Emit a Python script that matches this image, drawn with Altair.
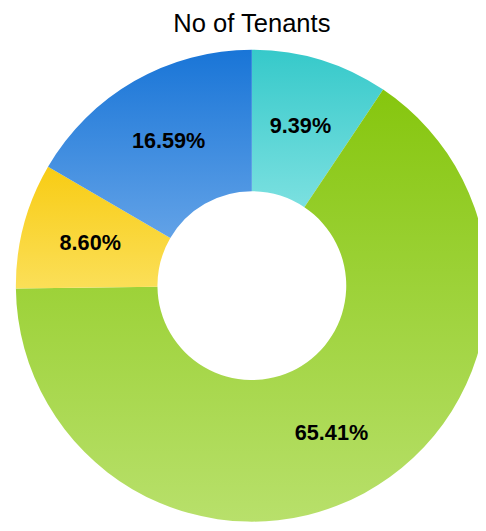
import altair as alt
import pandas as pd

title_text = "No of Tenants"
categories = ["Type A", "Type B", "Type C", "Type D"]
shares = [9.39, 65.41, 8.60, 16.59]
labels = ["9.39%", "65.41%", "8.60%", "16.59%"]
top_colors = ["#36C9CA", "#86C60E", "#F8CC14", "#1975D7"]
bottom_colors = ["#7BE0E0", "#B8E06B", "#FBDF58", "#62A2E7"]

df = pd.DataFrame({"category": categories, "share": shares, "label": labels})
df["end"] = df["share"].cumsum()
df["start"] = df["end"] - df["share"]
df["mid"] = (df["start"] + df["end"]) / 2
total = float(df["share"].sum())

theta_scale = alt.Scale(domain=[0, total], range=[0, 6.283185307179586])
cx, cy = 248, 252

base = alt.Chart(df)
layers = []
for cat, c1, c2 in zip(categories, top_colors, bottom_colors):
    grad = alt.Gradient(
        gradient="linear", x1=0, y1=0, x2=0, y2=1,
        stops=[alt.GradientStop(color=c1, offset=0), alt.GradientStop(color=c2, offset=1)],
    )
    layers.append(
        base.transform_filter(alt.datum.category == cat)
        .mark_arc(innerRadius=96, outerRadius=240, color=grad)
        .encode(
            theta=alt.Theta("start:Q", scale=theta_scale, stack=None),
            theta2="end:Q",
            x=alt.value(cx),
            y=alt.value(cy),
        )
    )

text_layer = base.mark_text(
    font="Liberation Sans", fontSize=22, fontWeight="bold", color="#000000"
).encode(
    theta=alt.Theta("mid:Q", scale=theta_scale, stack=None),
    radius=alt.value(170),
    text="label:N",
    x=alt.value(cx),
    y=alt.value(cy),
)

title_layer = alt.Chart(pd.DataFrame({"t": [title_text]})).mark_text(
    font="Liberation Sans", fontSize=26, color="#000000", baseline="alphabetic"
).encode(text="t:N", x=alt.value(248), y=alt.value(-6))

chart = alt.layer(*layers, text_layer, title_layer).properties(
    width=478, height=490,
    padding={"left": 0, "top": 26, "right": 0, "bottom": 0},
    autosize="none",
).configure_view(stroke=None)

chart.save("out.html", embed_options={"renderer": "svg", "actions": False})
